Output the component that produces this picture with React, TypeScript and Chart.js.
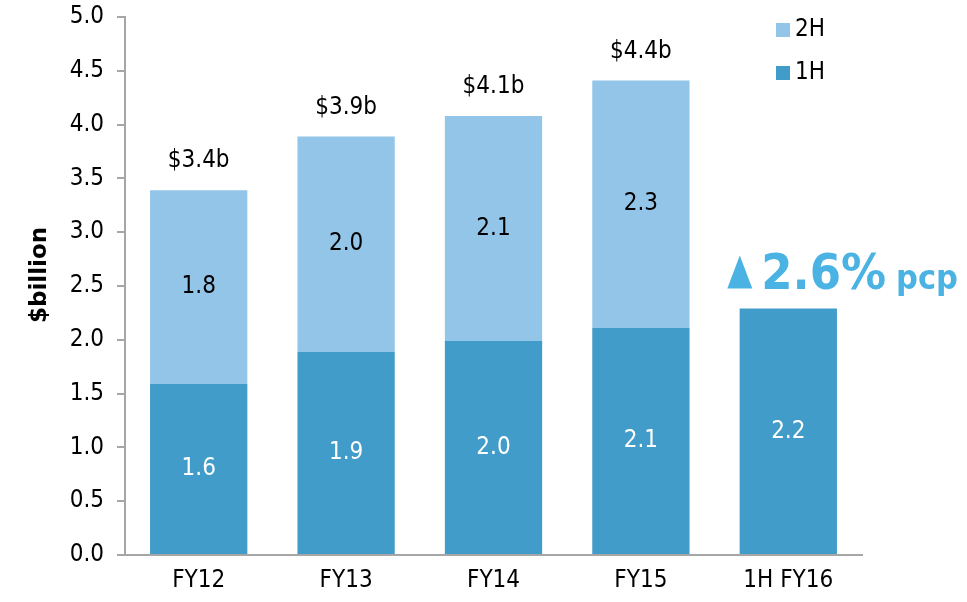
import React, { useEffect, useRef } from "react";
import { Chart, registerables } from "chart.js";

Chart.register(...registerables);

const categories = ["FY12", "FY13", "FY14", "FY15", "1H FY16"];
const firstHalf = [1.59, 1.89, 1.99, 2.11, 2.29];
const secondHalf: (number | null)[] = [1.8, 2.0, 2.09, 2.3, null];
const firstHalfLabels = ["1.6", "1.9", "2.0", "2.1", "2.2"];
const secondHalfLabels = ["1.8", "2.0", "2.1", "2.3", ""];
const totalLabels = ["$3.4b", "$3.9b", "$4.1b", "$4.4b", ""];
const seriesNames = ["1H", "2H"];
const growthValue = "2.6%";
const growthSuffix = "pcp";
const yAxisTitle = "$billion";

const FONT = "'DejaVu Sans Condensed', 'DejaVu Sans', sans-serif";
const FS = 24;
const C1 = "#419CC9";
const C2 = "#93C5E8";
const ACCENT = "#4BB3E3";
const AXIS = "#A6A6A6";

const labelsPlugin = {
  id: "customLabels",
  afterDatasetsDraw(chart: any) {
    const ctx = chart.ctx;
    ctx.save();
    ctx.font = `${FS}px ${FONT}`;
    ctx.textAlign = "center";
    ctx.textBaseline = "middle";
    const m0 = chart.getDatasetMeta(0);
    const m1 = chart.getDatasetMeta(1);
    m0.data.forEach((el: any, i: number) => {
      const t = firstHalfLabels[i];
      if (!t) return;
      ctx.fillStyle = "#FFFFFF";
      ctx.fillText(t, el.x, (el.y + el.base) / 2);
    });
    m1.data.forEach((el: any, i: number) => {
      const t = secondHalfLabels[i];
      if (t && secondHalf[i] != null) {
        ctx.fillStyle = "#000000";
        ctx.fillText(t, el.x, (el.y + el.base) / 2);
      }
      const tl = totalLabels[i];
      if (tl && secondHalf[i] != null) {
        ctx.fillStyle = "#000000";
        ctx.fillText(tl, el.x, el.y - 29);
      }
    });

    // growth annotation above last bar
    const last = m0.data[m0.data.length - 1];
    if (last) {
      const bx = last.x;
      const by = last.y;
      const baseY = by - 20;
      ctx.fillStyle = ACCENT;
      ctx.beginPath();
      ctx.moveTo(bx - 61, baseY);
      ctx.lineTo(bx - 36, baseY);
      ctx.lineTo(bx - 48.5, baseY - 33);
      ctx.closePath();
      ctx.fill();
      ctx.textAlign = "left";
      ctx.textBaseline = "alphabetic";
      ctx.font = `bold 50px ${FONT}`;
      ctx.fillText(growthValue, bx - 27, baseY);
      const w = ctx.measureText(growthValue).width;
      ctx.font = `bold 34px ${FONT}`;
      ctx.fillText(growthSuffix, bx - 27 + w + 10, baseY);
    }

    // legend (2H above 1H)
    const items = [
      { name: seriesNames[1], color: C2, y: 30 },
      { name: seriesNames[0], color: C1, y: 73 },
    ];
    ctx.font = `${FS}px ${FONT}`;
    ctx.textBaseline = "middle";
    ctx.textAlign = "left";
    items.forEach((it) => {
      ctx.fillStyle = it.color;
      ctx.fillRect(776, it.y - 7, 14, 14);
      ctx.fillStyle = "#000000";
      ctx.fillText(it.name, 795, it.y);
    });

    // y axis title
    ctx.save();
    ctx.translate(40, 275);
    ctx.rotate(-Math.PI / 2);
    ctx.textAlign = "center";
    ctx.textBaseline = "middle";
    ctx.font = `bold 23px 'DejaVu Sans', sans-serif`;
    ctx.fillStyle = "#000000";
    ctx.fillText(yAxisTitle, 0, 0);
    ctx.restore();

    ctx.restore();
  },
};

export default function App() {
  const ref = useRef<HTMLCanvasElement | null>(null);
  useEffect(() => {
    if (!ref.current) return;
    const chart = new Chart(ref.current, {
      type: "bar",
      data: {
        labels: categories,
        datasets: [
          {
            label: seriesNames[0],
            data: firstHalf,
            backgroundColor: C1,
            categoryPercentage: 1,
            barPercentage: 0.66,
          },
          {
            label: seriesNames[1],
            data: secondHalf,
            backgroundColor: C2,
            categoryPercentage: 1,
            barPercentage: 0.66,
          },
        ],
      },
      options: {
        responsive: false,
        animation: false,
        layout: { padding: { left: 0, right: 105, top: 17, bottom: 0 } },
        plugins: {
          legend: { display: false },
          tooltip: { enabled: false },
        },
        scales: {
          x: {
            stacked: true,
            grid: { display: false, drawTicks: false },
            border: { display: true, color: AXIS, width: 2 },
            ticks: { color: "#000", font: { family: FONT, size: FS }, padding: 11 },
            afterFit: (s: any) => {
              s.height = 47;
              s.paddingLeft = 0;
              s.paddingRight = 0;
            },
          },
          y: {
            stacked: true,
            min: 0,
            max: 5,
            grid: {
              display: true,
              drawOnChartArea: false,
              drawTicks: true,
              tickLength: 8,
              color: AXIS,
              lineWidth: 2,
            },
            border: { display: true, color: AXIS, width: 2 },
            ticks: {
              stepSize: 0.5,
              color: "#000",
              font: { family: FONT, size: FS },
              padding: 13,
              callback: (v: any) => Number(v).toFixed(1),
            },
            afterFit: (s: any) => {
              s.width = 125;
              s.paddingTop = 0;
              s.paddingBottom = 0;
            },
          },
        },
      },
      plugins: [labelsPlugin],
    } as any);
    return () => chart.destroy();
  }, []);
  return (
    <div style={{ position: "absolute", left: 0, top: 0, width: 967, height: 602, background: "#fff" }}>
      <canvas ref={ref} width={967} height={602} style={{ display: "block" }} />
    </div>
  );
}
